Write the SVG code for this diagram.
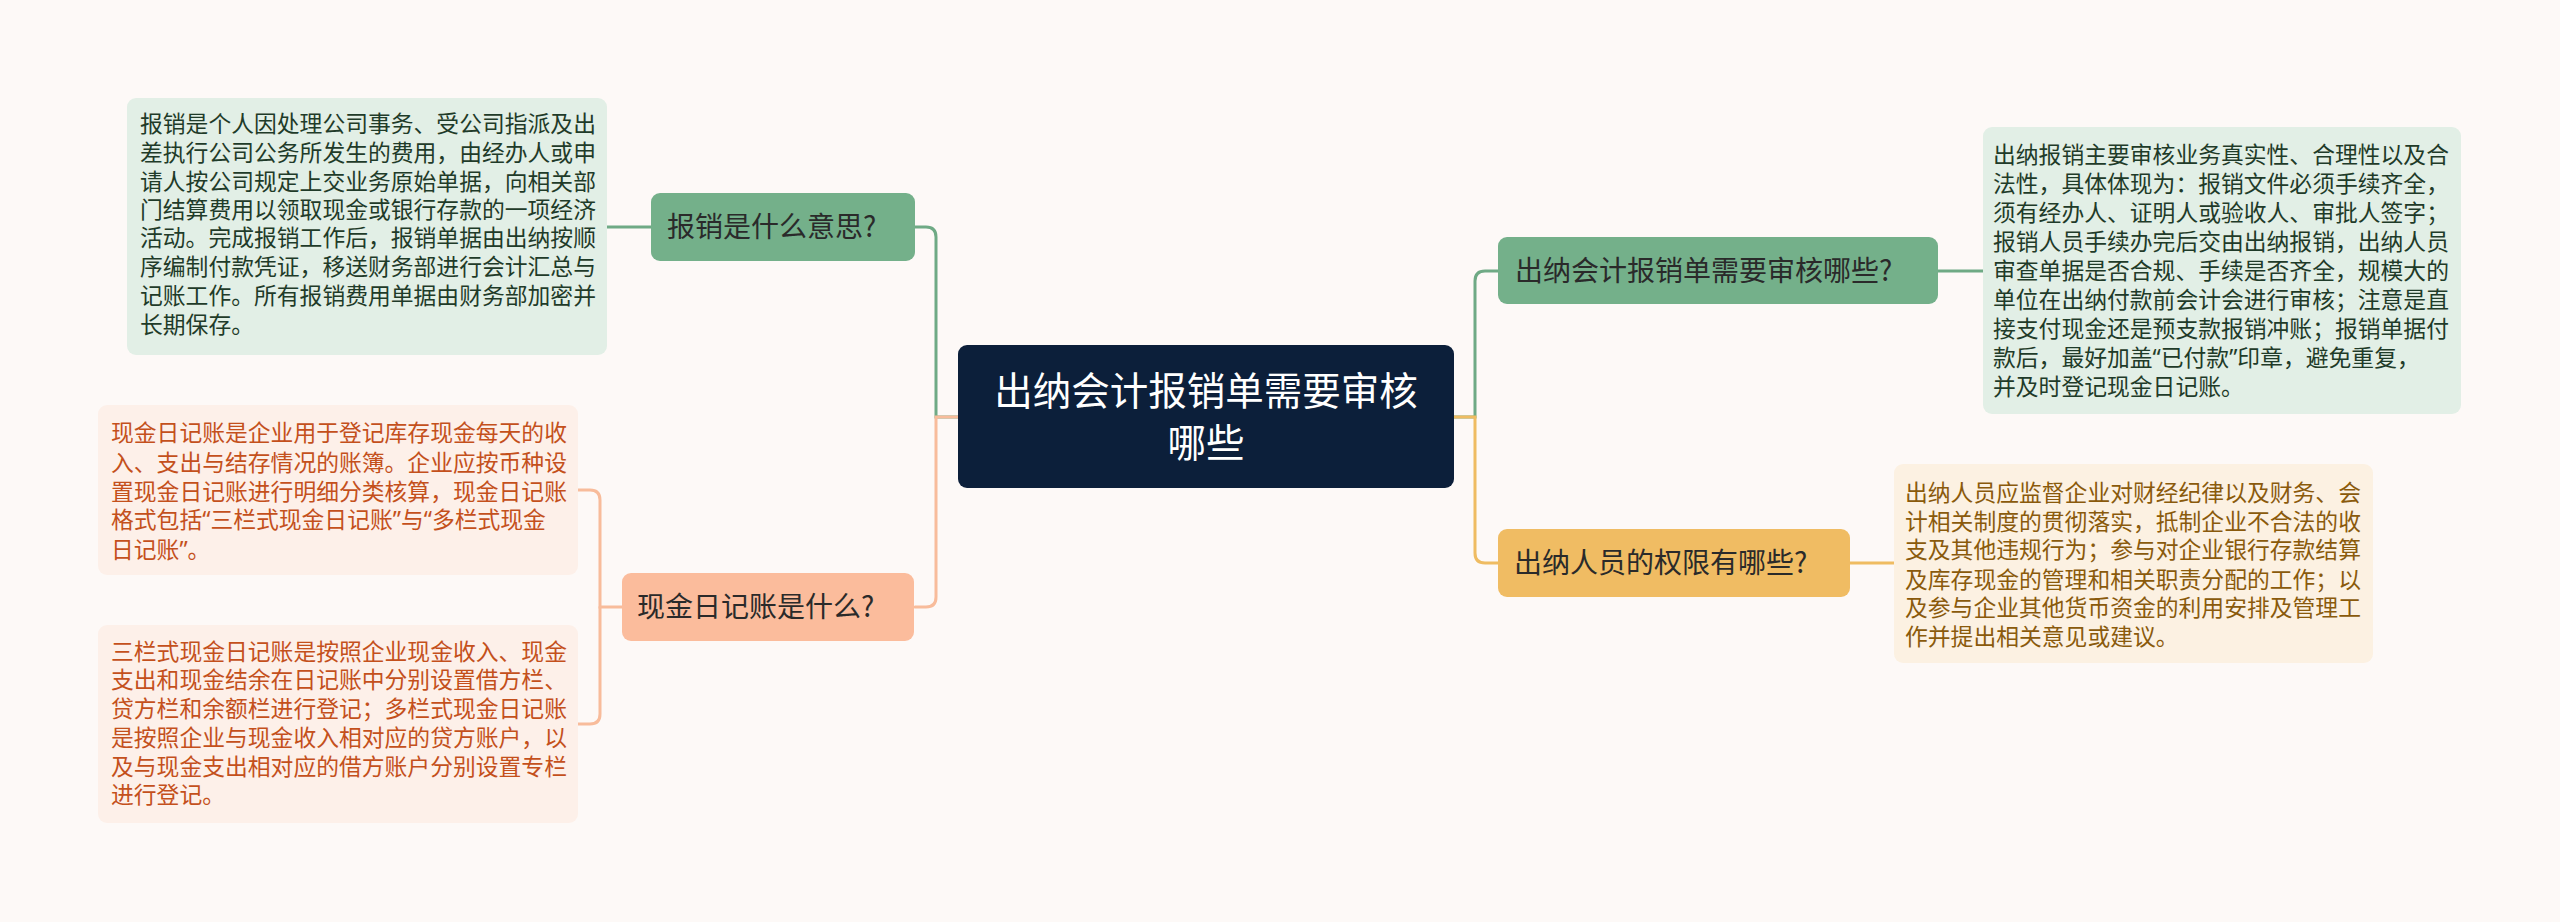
<svg xmlns="http://www.w3.org/2000/svg" width="2560" height="922" viewBox="0 0 2560 922">
<style>
.t{font-family:"Noto Sans CJK SC","Noto Sans",sans-serif}
.q{font-family:"Noto Sans","Noto Sans CJK SC",sans-serif}
.leaf{font-size:22.8px}
.node{font-size:28px;fill:#2a2a2a}
.root{font-size:38.5px;fill:#ffffff}
.lg{fill:#1f3b29}
.lo{fill:#c4501c}
.ly{fill:#8a5a0c}
.c{fill:none;stroke-width:3;stroke-linecap:round}
.cg{stroke:#6faa85}
.co{stroke:#f8bc9b}
.cy{stroke:#efbc62}
</style>
<rect width="2560" height="922" fill="#fdf9f7"/>
<g id="connectors">
<path class="c cg" d="M958,417 H936 V237 Q936,227 926,227 H915"/>
<path class="c co" d="M958,417 H936 V597 Q936,607 926,607 H915"/>
<path class="c cg" d="M651,227 H607"/>
<path class="c co" d="M622,607 H600 V500 Q600,490 590,490 H578"/>
<path class="c co" d="M600,607 V714 Q600,724 590,724 H578"/>
<path class="c cg" d="M1454,417 H1475 V281 Q1475,271 1485,271 H1498"/>
<path class="c cy" d="M1454,417 H1475 V553 Q1475,563 1485,563 H1498"/>
<path class="c cg" d="M1938,271 H1983"/>
<path class="c cy" d="M1850,563 H1894"/>
</g>
<g id="root">
<rect x="958" y="345" width="496" height="143" rx="9" fill="#0c1f3a"/>
<text class="t root" x="1206" y="405" text-anchor="middle">出纳会计报销单需要审核</text>
<text class="t root" x="1206" y="457" text-anchor="middle">哪些</text>
</g>
<g id="n-baoxiao">
<rect x="651" y="193" width="264" height="68" rx="9" fill="#74b08a"/>
<text class="t node" x="667" y="237">报销是什么意思?</text>
</g>
<g id="leaf-baoxiao">
<rect x="127" y="98" width="480" height="257" rx="9" fill="#e2efe6"/>
<text class="t leaf lg" x="140" y="132">报销是个人因处理公司事务、受公司指派及出</text>
<text class="t leaf lg" x="140" y="161">差执行公司公务所发生的费用，由经办人或申</text>
<text class="t leaf lg" x="140" y="190">请人按公司规定上交业务原始单据，向相关部</text>
<text class="t leaf lg" x="140" y="218">门结算费用以领取现金或银行存款的一项经济</text>
<text class="t leaf lg" x="140" y="246">活动。完成报销工作后，报销单据由出纳按顺</text>
<text class="t leaf lg" x="140" y="275">序编制付款凭证，移送财务部进行会计汇总与</text>
<text class="t leaf lg" x="140" y="304">记账工作。所有报销费用单据由财务部加密并</text>
<text class="t leaf lg" x="140" y="333">长期保存。</text>
</g>
<g id="n-xianjin">
<rect x="622" y="573" width="292" height="68" rx="9" fill="#fbbc9c"/>
<text class="t node" x="637" y="617">现金日记账是什么?</text>
</g>
<g id="leaf-xianjin-1">
<rect x="98" y="405" width="480" height="170" rx="9" fill="#fdf0e9"/>
<text class="t leaf lo" x="111" y="441">现金日记账是企业用于登记库存现金每天的收</text>
<text class="t leaf lo" x="111" y="471">入、支出与结存情况的账簿。企业应按币种设</text>
<text class="t leaf lo" x="111" y="500">置现金日记账进行明细分类核算，现金日记账</text>
<text class="t leaf lo" x="111" y="528">格式包括<tspan class="q">“</tspan>三栏式现金日记账<tspan class="q">”</tspan>与<tspan class="q">“</tspan>多栏式现金</text>
<text class="t leaf lo" x="111" y="558">日记账<tspan class="q">”</tspan>。</text>
</g>
<g id="leaf-xianjin-2">
<rect x="98" y="625" width="480" height="198" rx="9" fill="#fdf0e9"/>
<text class="t leaf lo" x="111" y="660">三栏式现金日记账是按照企业现金收入、现金</text>
<text class="t leaf lo" x="111" y="688">支出和现金结余在日记账中分别设置借方栏、</text>
<text class="t leaf lo" x="111" y="717">贷方栏和余额栏进行登记；多栏式现金日记账</text>
<text class="t leaf lo" x="111" y="746">是按照企业与现金收入相对应的贷方账户，以</text>
<text class="t leaf lo" x="111" y="775">及与现金支出相对应的借方账户分别设置专栏</text>
<text class="t leaf lo" x="111" y="803">进行登记。</text>
</g>
<g id="n-shenhe">
<rect x="1498" y="237" width="440" height="67" rx="9" fill="#74b08a"/>
<text class="t node" x="1515" y="281">出纳会计报销单需要审核哪些?</text>
</g>
<g id="leaf-shenhe">
<rect x="1983" y="127" width="478" height="287" rx="9" fill="#e2efe6"/>
<text class="t leaf lg" x="1993" y="163">出纳报销主要审核业务真实性、合理性以及合</text>
<text class="t leaf lg" x="1993" y="192">法性，具体体现为：报销文件必须手续齐全，</text>
<text class="t leaf lg" x="1993" y="221">须有经办人、证明人或验收人、审批人签字；</text>
<text class="t leaf lg" x="1993" y="250">报销人员手续办完后交由出纳报销，出纳人员</text>
<text class="t leaf lg" x="1993" y="279">审查单据是否合规、手续是否齐全，规模大的</text>
<text class="t leaf lg" x="1993" y="308">单位在出纳付款前会计会进行审核；注意是直</text>
<text class="t leaf lg" x="1993" y="337">接支付现金还是预支款报销冲账；报销单据付</text>
<text class="t leaf lg" x="1993" y="366">款后，最好加盖<tspan class="q">“</tspan>已付款<tspan class="q">”</tspan>印章，避免重复，</text>
<text class="t leaf lg" x="1993" y="395">并及时登记现金日记账。</text>
</g>
<g id="n-quanxian">
<rect x="1498" y="529" width="352" height="68" rx="9" fill="#f0bc63"/>
<text class="t node" x="1514" y="573">出纳人员的权限有哪些?</text>
</g>
<g id="leaf-quanxian">
<rect x="1894" y="464" width="479" height="199" rx="9" fill="#fcf1e2"/>
<text class="t leaf ly" x="1905" y="501">出纳人员应监督企业对财经纪律以及财务、会</text>
<text class="t leaf ly" x="1905" y="530">计相关制度的贯彻落实，抵制企业不合法的收</text>
<text class="t leaf ly" x="1905" y="558">支及其他违规行为；参与对企业银行存款结算</text>
<text class="t leaf ly" x="1905" y="588">及库存现金的管理和相关职责分配的工作；以</text>
<text class="t leaf ly" x="1905" y="616">及参与企业其他货币资金的利用安排及管理工</text>
<text class="t leaf ly" x="1905" y="645">作并提出相关意见或建议。</text>
</g>
</svg>
